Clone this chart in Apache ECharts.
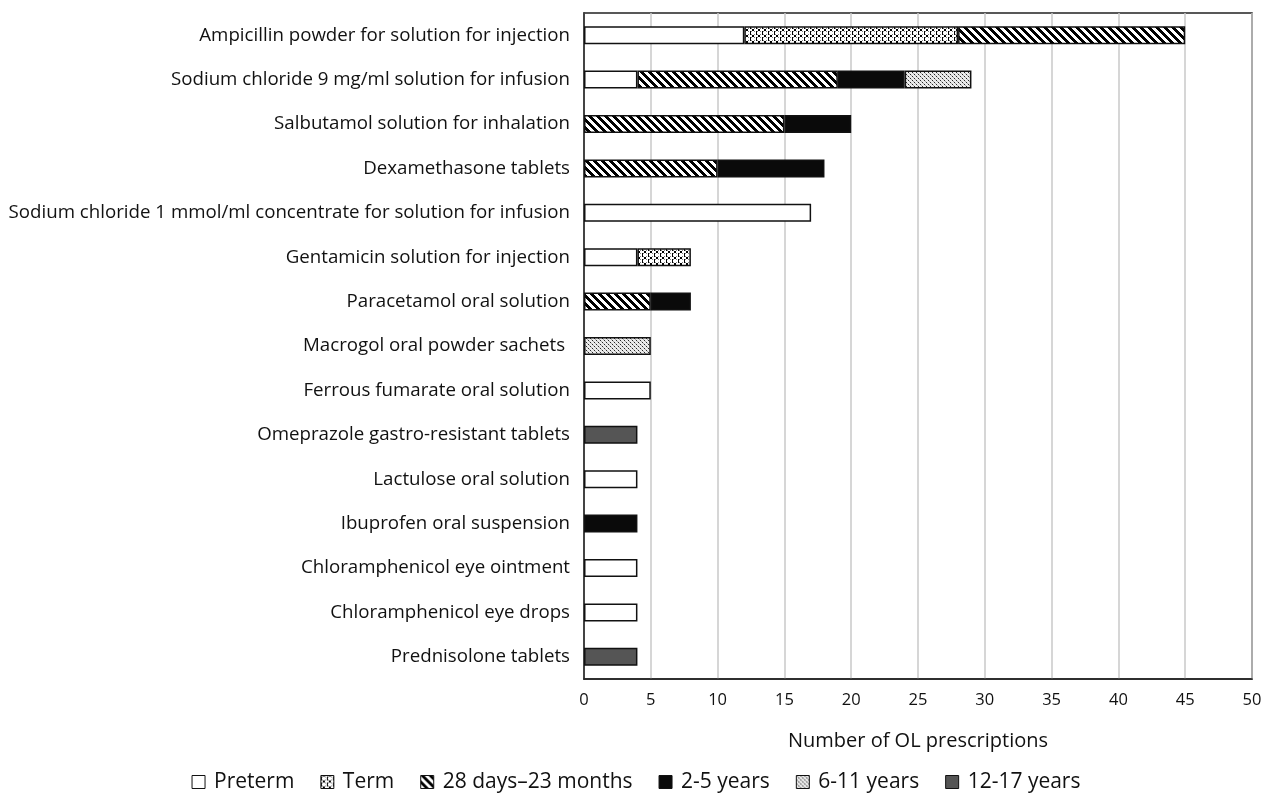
<!DOCTYPE html>
<html>
<head>
<meta charset="utf-8">
<script src="https://cdn.jsdelivr.net/npm/echarts@6/dist/echarts.min.js"></script>
<style>
  html, body { margin: 0; padding: 0; background: #fff; }
  #chart { width: 1272px; height: 796px; }
</style>
</head>
<body>
<div id="chart"></div>
<script>
// Medicines, top to bottom
const medicines = [
  'Ampicillin powder for solution for injection',
  'Sodium chloride 9 mg/ml solution for infusion',
  'Salbutamol solution for inhalation',
  'Dexamethasone tablets',
  'Sodium chloride 1 mmol/ml concentrate for solution for infusion',
  'Gentamicin solution for injection',
  'Paracetamol oral solution',
  'Macrogol oral powder sachets ',
  'Ferrous fumarate oral solution',
  'Omeprazole gastro-resistant tablets',
  'Lactulose oral solution',
  'Ibuprofen oral suspension',
  'Chloramphenicol eye ointment',
  'Chloramphenicol eye drops',
  'Prednisolone tablets'
];

// Number of off-label prescriptions per age group
const preterm    = [12, 4, 0, 0, 17, 4, 0, 0, 5, 0, 4, 0, 4, 4, 0];
const term       = [16, 0, 0, 0, 0, 4, 0, 0, 0, 0, 0, 0, 0, 0, 0];
const days28to23 = [17, 15, 15, 10, 0, 0, 5, 0, 0, 0, 0, 0, 0, 0, 0];
const years2to5  = [0, 5, 5, 8, 0, 0, 3, 0, 0, 0, 0, 4, 0, 0, 0];
const years6to11 = [0, 5, 0, 0, 0, 0, 0, 5, 0, 0, 0, 0, 0, 0, 0];
const years12to17 = [0, 0, 0, 0, 0, 0, 0, 0, 0, 4, 0, 0, 0, 0, 4];

const groupNames = ['Preterm', 'Term', '28 days\u201323 months', '2-5 years', '6-11 years', '12-17 years'];
const groupValues = [preterm, term, days28to23, years2to5, years6to11, years12to17];

const xTicks = [0, 5, 10, 15, 20, 25, 30, 35, 40, 45, 50];

// Small pixel tiles used as bar fills
function tile(w, h, isInk) {
  const c = document.createElement('canvas');
  c.width = w; c.height = h;
  const ctx = c.getContext('2d');
  const img = ctx.createImageData(w, h);
  for (let y = 0; y < h; y++) {
    for (let x = 0; x < w; x++) {
      const v = isInk(x, y);
      const g = v === true ? 0 : (v === false ? 255 : v);
      const i = (y * w + x) * 4;
      img.data[i] = g; img.data[i + 1] = g; img.data[i + 2] = g; img.data[i + 3] = 255;
    }
  }
  ctx.putImageData(img, 0, 0);
  return { image: c, repeat: 'repeat' };
}

// Backslash stripes
const stripeFill = tile(8, 8, (x, y) => ((x - y + 16) % 8) < 4);
// Chain-like pattern of small boxes
const termFill = tile(6, 6, (x, y) => {
  if (x === 0 && y >= 1 && y <= 4) return true;
  if ((y === 0 || y === 5) && (x === 2 || x === 3)) return true;
  if ((y === 1 || y === 4) && (x === 1 || x === 4)) return 130;
  return false;
});
// Fine dots
const dotFill = tile(4, 4, (x, y) => {
  if ((x === 0 && y === 0) || (x === 2 && y === 2)) return 40;
  if ((x === 1 && y === 1) || (x === 3 && y === 3)) return 170;
  return 235;
});

const fills = ['#ffffff', termFill, stripeFill, '#0a0a0a', dotFill, '#555555'];

const FONT = '"Open Sans", Lato, sans-serif';

const series = groupNames.map((name, k) => ({
  name: name,
  type: 'bar',
  stack: 'total',
  barWidth: 18,
  data: groupValues[k].map(v => (v === 0 ? null : v)),
  itemStyle: {
    color: fills[k],
    borderColor: '#111',
    borderWidth: 1.5
  },
  emphasis: { disabled: true }
}));

const chart = echarts.init(document.getElementById('chart'), null, { renderer: 'canvas' });
chart.setOption({
  animation: false,
  backgroundColor: '#fff',
  grid: {
    left: 584, right: 20, top: 13, bottom: 117,
    show: true, borderColor: '#222', borderWidth: 1.5, backgroundColor: 'transparent'
  },
  legend: {
    top: 764,
    left: 'center',
    icon: 'rect',
    itemWidth: 13,
    itemHeight: 13,
    itemGap: 26,
    textStyle: { fontFamily: FONT, fontSize: 21, lineHeight: 26, color: '#111', padding: [0, 0, 0, 4] },
    itemStyle: { borderColor: '#111', borderWidth: 1 },
    data: groupNames
  },
  xAxis: {
    type: 'value',
    min: 0, max: 50, interval: 5,
    name: 'Number of OL prescriptions',
    nameLocation: 'middle',
    nameGap: 52,
    nameTextStyle: { fontFamily: FONT, fontSize: 20, color: '#111' },
    axisLine: { show: true, lineStyle: { color: '#222', width: 1.5 } },
    axisTick: { show: false },
    axisLabel: {
      fontFamily: FONT, fontSize: 16.5, color: '#111', margin: 13,
      formatter: v => (xTicks.includes(v) ? String(v) : '')
    },
    splitLine: { show: true, lineStyle: { color: '#c8c8c8', width: 1.5 } }
  },
  yAxis: {
    type: 'category',
    inverse: true,
    data: medicines,
    axisLine: { show: true, lineStyle: { color: '#222', width: 1.5 } },
    axisTick: { show: false },
    axisLabel: { fontFamily: FONT, fontSize: 18.7, color: '#111', margin: 14 }
  },
  series: series
});
</script>
</body>
</html>
